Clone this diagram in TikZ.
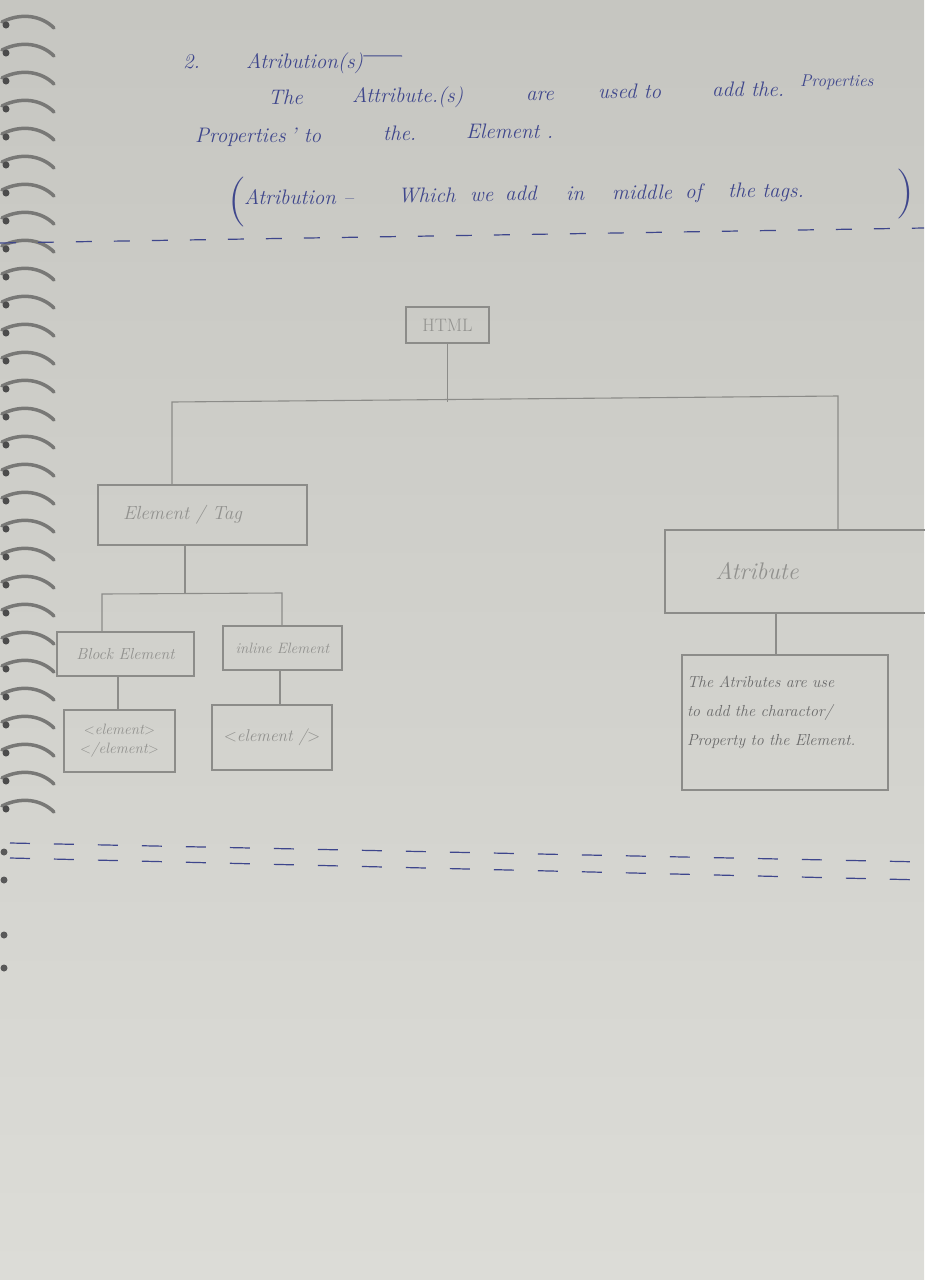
\documentclass[tikz,border=0pt]{standalone}
\usetikzlibrary{calc}
\definecolor{paperA}{RGB}{198,198,193}
\definecolor{paperB}{RGB}{220,220,215}
\definecolor{ink}{RGB}{62,70,140}
\definecolor{pencil}{RGB}{140,140,137}
\definecolor{pencilText}{RGB}{145,145,142}
\definecolor{ringC}{RGB}{120,120,118}
\begin{document}
\begin{tikzpicture}[x=1pt,y=-1pt,
  pbox/.style={draw=pencil,line width=1.1pt,inner sep=0pt,text=pencilText,font=\itshape\fontsize{15}{17}\selectfont,align=center},
  pline/.style={draw=pencil,line width=1.1pt},
  inktext/.style={text=ink,font=\itshape\fontsize{21}{24}\selectfont,anchor=base west,inner sep=0pt},
  inkdash/.style={draw=ink,line width=1.2pt,dash pattern=on 16pt off 22pt},
  ring/.style={draw=ringC,line width=3.5pt,line cap=round}]
% paper
\shade[top color=paperA,bottom color=paperB] (0,0) rectangle (924,1280);
\useasboundingbox (0,0) rectangle (924,1280);
% spiral binding
\foreach \yy in {22,50,78,106,134,162,190,218,246,274,302,330,358,386,414,442,470,498,526,554,582,610,638,666,694,722,750,778,806} {
  \draw[ring] (2,\yy) .. controls (22,\yy-10) and (42,\yy-6) .. (54,\yy+6);
  \fill[black!70] (6,\yy+3) circle (3.5pt);
}
\foreach \yy in {852,880,935,968} { \fill[black!65] (4,\yy) circle (3.5pt); }
% header text
\node[inktext] (num) at (183,68) {2.};
\node[inktext] (title) at (246,68) {Atribution(s)};
\coordinate (titleEnd) at (402,56);
\draw[ink,line width=1pt] (title.east) ++(0,-7) -- (titleEnd);
\node[inktext] (w1) at (268,104) {The};
\node[inktext] (w2) at (352,102) {Attribute.(s)};
\node[inktext] (w3) at (526,100) {are};
\node[inktext] (w4) at (598,98) {used to};
\node[inktext] (w5) at (712,96) {add the.};
\node[text=ink,font=\itshape\fontsize{17}{19}\selectfont,anchor=base west,inner sep=0pt] (w6) at (800,86) {Properties};
\node[inktext] (v1) at (195,142) {Properties};
\node[inktext] (v2) at (290,142) {' to};
\node[inktext] (v3) at (383,140) {the.};
\node[inktext] (v4) at (466,138) {Element .};
\node[text=ink,font=\fontsize{50}{50}\selectfont,anchor=base west,inner sep=0pt] (po) at (228,214) {(};
\node[inktext] (u1) at (244,204) {Atribution --};
\node[inktext] (u2) at (398,202) {Which};
\node[inktext] (u3) at (470,201) {we};
\node[inktext] (u4) at (505,200) {add};
\node[inktext] (u5) at (566,200) {in};
\node[inktext] (u6) at (612,199) {middle};
\node[inktext] (u7) at (685,198) {of};
\node[inktext] (u8) at (728,197) {the tags.};
\node[text=ink,font=\fontsize{50}{50}\selectfont,anchor=base west,inner sep=0pt] (pc) at (896,206) {)};
% top dashed line
\coordinate (d1s) at (0,243);
\coordinate (d1e) at (924,228);
\draw[inkdash] (d1s) -- (d1e);
% diagram
\node[pbox,minimum width=83pt,minimum height=36pt,font=\fontsize{18}{20}\selectfont] (html) at (447.5,325) {HTML};
\node[pbox,minimum width=209pt,minimum height=60pt,font=\itshape\fontsize{19}{21}\selectfont] (el) at (202.5,515) {\hspace*{-40pt}Element / Tag};
\node[pbox,minimum width=137pt,minimum height=44pt,font=\itshape\fontsize{16}{18}\selectfont] (blk) at (125.5,654) {Block Element};
\node[pbox,minimum width=119pt,minimum height=44pt,font=\itshape\fontsize{15}{17}\selectfont] (inl) at (282.5,648) {inline Element};
\node[pbox,minimum width=111pt,minimum height=62pt,font=\itshape\fontsize{15}{19}\selectfont] (blkx) at (119.5,741) {$<$element$>$\\$<$/element$>$};
\node[pbox,minimum width=120pt,minimum height=65pt,font=\itshape\fontsize{17}{19}\selectfont] (inlx) at (272,737.5) {$<$element /$>$};
\node[pbox,minimum width=264pt,minimum height=83pt,font=\itshape\fontsize{24}{26}\selectfont] (at) at (797,571.5) {\hspace*{-80pt}Atribute};
\node[pbox,minimum width=206pt,minimum height=135pt,text width=196pt,align=left,inner xsep=5pt,font=\itshape\fontsize{16}{29}\selectfont,text=black!58] (atd) at (785,722.5) {\rule{0pt}{18pt}The Atributes are use\\to add the charactor/\\Property to the Element.\rule[-30pt]{0pt}{30pt}};
% connectors
\coordinate (jl) at (172,402);
\coordinate (jr) at (838,396);
\draw[pline] (html.south) -- (html.south |- jl);
\draw[pline] (jl |- el.north) -- (jl) -- (jr) -- (jr |- at.north);
\coordinate (kl) at (102,594);
\coordinate (kr) at (282,593);
\coordinate (kt) at (185,593);
\draw[pline] (kt |- el.south) -- (kt);
\draw[pline] (kl |- blk.north) -- (kl) -- (kr) -- (kr |- inl.north);
\coordinate (bx) at (118,0);
\coordinate (ix) at (280,0);
\coordinate (ax) at (776,0);
\draw[pline] (bx |- blk.south) -- (bx |- blkx.north);
\draw[pline] (ix |- inl.south) -- (ix |- inlx.north);
\draw[pline] (ax |- at.south) -- (ax |- atd.north);
% bottom double dashed line
\coordinate (b1s) at (10,843);
\coordinate (b1e) at (924,862);
\coordinate (b2s) at (10,858);
\coordinate (b2e) at (924,880);
\draw[inkdash,dash pattern=on 20pt off 24pt] (b1s) -- (b1e);
\draw[inkdash,dash pattern=on 20pt off 24pt] (b2s) -- (b2e);
\end{tikzpicture}
\end{document}
